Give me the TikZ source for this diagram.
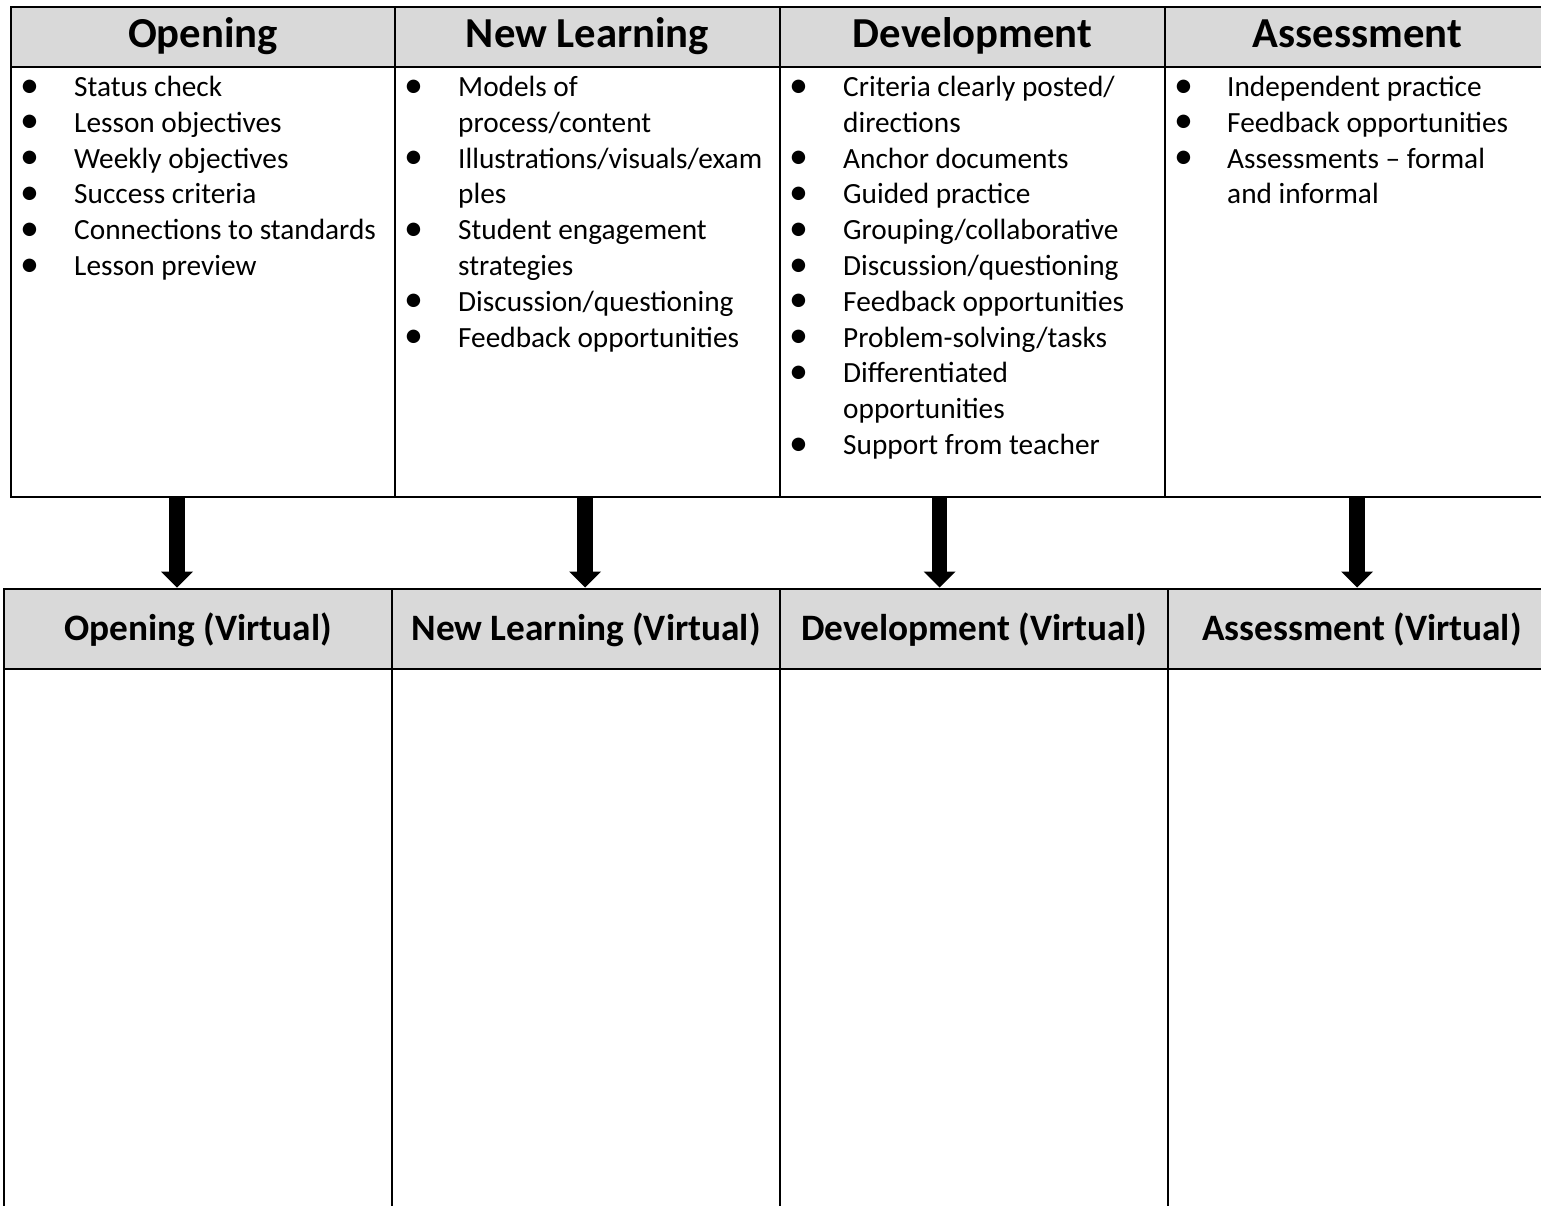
\documentclass[tikz,border=0pt]{standalone}
\usepackage{fontspec}
\setmainfont{Carlito}
\usetikzlibrary{arrows.meta}
\definecolor{hdr}{HTML}{D9D9D9}
\begin{document}
\begin{tikzpicture}[x=1pt,y=-1pt,
  cell/.style={draw, line width=2.6pt, inner sep=0pt, outer sep=0pt, anchor=north west},
  hcell/.style={cell, fill=hdr},
  bighead/.style={font=\fontsize{42.7}{50}\selectfont\bfseries, text height=31pt, text depth=9pt},
  smallhead/.style={font=\fontsize{37.3}{44}\selectfont\bfseries, text height=28pt, text depth=6pt},
  bodytext/.style={anchor=base west, inner sep=0pt, font=\fontsize{29.3}{35}\selectfont},
  bul/.style={anchor=center, inner sep=0pt, font=\fontsize{38}{40}\selectfont},
  bigarrow/.style={line width=15.5pt, -{Triangle[width=32pt,length=16pt,line width=0pt]}}
]
\useasboundingbox[fill=white] (0,0) rectangle (1541,1206);

% top table
\node[hcell, bighead, minimum width=384pt, minimum height=60pt] (h1) at (11,7) {Opening};
\node[hcell, bighead, minimum width=385pt, minimum height=60pt] (h2) at (395,7) {New Learning};
\node[hcell, bighead, minimum width=385pt, minimum height=60pt] (h3) at (780,7) {Development};
\node[hcell, bighead, minimum width=385pt, minimum height=60pt] (h4) at (1165,7) {Assessment};
\node[cell, minimum width=384pt, minimum height=430pt] (b1) at (11,67) {};
\node[cell, minimum width=385pt, minimum height=430pt] (b2) at (395,67) {};
\node[cell, minimum width=385pt, minimum height=430pt] (b3) at (780,67) {};
\node[cell, minimum width=385pt, minimum height=430pt] (b4) at (1165,67) {};

% bottom table
\node[hcell, smallhead, minimum width=388pt, minimum height=80pt] (v1) at (4,589) {Opening (Virtual)};
\node[hcell, smallhead, minimum width=388pt, minimum height=80pt] (v2) at (392,589) {New Learning (Virtual)};
\node[hcell, smallhead, minimum width=388pt, minimum height=80pt] (v3) at (780,589) {Development (Virtual)};
\node[hcell, smallhead, minimum width=388pt, minimum height=80pt] (v4) at (1168,589) {Assessment (Virtual)};
\node[cell, minimum width=388pt, minimum height=560pt] (w1) at (4,669) {};
\node[cell, minimum width=388pt, minimum height=560pt] (w2) at (392,669) {};
\node[cell, minimum width=388pt, minimum height=560pt] (w3) at (780,669) {};
\node[cell, minimum width=388pt, minimum height=560pt] (w4) at (1168,669) {};

% column 1 text
\foreach \t [count=\i from 0] in {Status check, Lesson objectives, Weekly objectives, Success criteria, Connections to standards, Lesson preview}
  \node[bodytext] (ta\i) at (74, 96.5+35.8*\i) {\t};
\foreach \k in {0,1,2,3,4,5}
  \node[bul] (ba\k) at (29.5, 88.4+35.8*\k) {•};

% column 2 text
\foreach \t [count=\i from 0] in {Models of, process/content, Illustrations/visuals/exam, ples, Student engagement, strategies, Discussion/questioning, Feedback opportunities}
  \node[bodytext] (tb\i) at (458, 96.5+35.8*\i) {\t};
\foreach \k in {0,2,4,6,7}
  \node[bul] (bb\k) at (413.5, 88.4+35.8*\k) {•};

% column 3 text
\foreach \t [count=\i from 0] in {Criteria clearly posted/, directions, Anchor documents, Guided practice, Grouping/collaborative, Discussion/questioning, Feedback opportunities, Problem-solving/tasks, Differentiated, opportunities, Support from teacher}
  \node[bodytext] (tc\i) at (843, 96.5+35.8*\i) {\t};
\foreach \k in {0,2,3,4,5,6,7,8,10}
  \node[bul] (bc\k) at (798.5, 88.4+35.8*\k) {•};

% column 4 text
\foreach \t [count=\i from 0] in {Independent practice, Feedback opportunities, Assessments – formal, and informal}
  \node[bodytext] (td\i) at (1227, 96.5+35.8*\i) {\t};
\foreach \k in {0,1,2}
  \node[bul] (bd\k) at (1183.5, 88.4+35.8*\k) {•};

% arrows
\coordinate (x1) at (177,0);
\coordinate (x2) at (585,0);
\coordinate (x3) at (939.5,0);
\coordinate (x4) at (1357,0);
\draw[bigarrow] (x1 |- b1.south) -- ([yshift=1.5pt]x1 |- v1.north);
\draw[bigarrow] (x2 |- b2.south) -- ([yshift=1.5pt]x2 |- v2.north);
\draw[bigarrow] (x3 |- b3.south) -- ([yshift=1.5pt]x3 |- v3.north);
\draw[bigarrow] (x4 |- b4.south) -- ([yshift=1.5pt]x4 |- v4.north);
\end{tikzpicture}
\end{document}
